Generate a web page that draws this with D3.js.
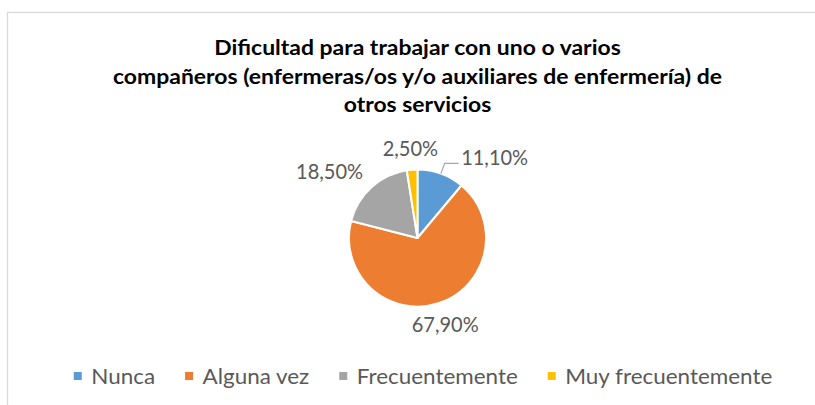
<!DOCTYPE html>
<html>
<head>
<meta charset="utf-8">
<script src="https://cdn.jsdelivr.net/npm/d3@7"></script>
<style>
  html, body { margin: 0; padding: 0; background: #fff; }
  svg { display: block; }
</style>
</head>
<body>
<svg id="chart" width="815" height="405"></svg>
<script>
const titleLines = [
  "Dificultad para trabajar con uno o varios",
  "compañeros (enfermeras/os y/o auxiliares de enfermería) de",
  "otros servicios"
];
const categories = ["Nunca", "Alguna vez", "Frecuentemente", "Muy frecuentemente"];
const values = [11.1, 67.9, 18.5, 2.5];
const valueLabels = ["11,10%", "67,90%", "18,50%", "2,50%"];
const colors = ["#5B9BD5", "#ED7D31", "#A5A5A5", "#FFC000"];

const W = 815, H = 405;
const FONT = "Lato, 'Open Sans', 'Liberation Sans', sans-serif";
const CAP = 0.7165; // Lato cap-height ratio
const svg = d3.select("#chart");

// chart area border (extends past the photographed window)
svg.append("rect")
  .attr("x", 7.5).attr("y", 12.5)
  .attr("width", W + 20).attr("height", H + 20)
  .attr("fill", "none").attr("stroke", "#d9d9d9").attr("stroke-width", 1.3);

function natWidth(text, weight, size) {
  const t = svg.append("text").attr("font-family", FONT).attr("font-weight", weight)
    .attr("font-size", size).text(text);
  const w = t.node().getComputedTextLength();
  t.remove();
  return w;
}
// a font spec: size chosen from cap height, horizontal factor chosen from a reference width
function spec(sample, weight, targetW, capH) {
  const size = capH / CAP;
  const f = targetW / natWidth(sample, weight, size);
  return { size, f, weight };
}
function widthOf(text, s) { return natWidth(text, s.weight, s.size) * s.f; }
function addText(sel, text, s) {
  const w = widthOf(text, s);
  return sel.append("text")
    .attr("font-family", FONT).attr("font-weight", s.weight)
    .attr("font-size", s.size)
    .attr("textLength", w).attr("lengthAdjust", "spacingAndGlyphs")
    .text(text);
}

// Title
const cxTitle = 417.5;
const tSpec = spec(titleLines[1], "bold", 609, 15);
const titleBase = [55, 84, 112];
const gTitle = svg.append("g");
titleLines.forEach((line, i) => {
  const w = widthOf(line, tSpec);
  addText(gTitle, line, tSpec)
    .attr("x", cxTitle - w / 2).attr("y", titleBase[i])
    .attr("fill", "#000");
});

// Pie
const cx = 417.5, cy = 238, r = 68.5;
const pie = d3.pie().sort(null).value(d => d);
const arcs = pie(values);
const arc = d3.arc().innerRadius(0).outerRadius(r);
const color = d3.scaleOrdinal().domain(categories).range(colors);

const gPie = svg.append("g").attr("transform", `translate(${cx},${cy})`);
gPie.selectAll("path").data(arcs).join("path")
  .attr("d", arc)
  .attr("fill", (d, i) => color(categories[i]))
  .attr("stroke", "#fff").attr("stroke-width", 2).attr("stroke-linejoin", "round");

// Data labels
const lSpec = spec("18,50%", "normal", 67, 15.5);
const capH = 15.5;
const labelColor = "#595959";
const gLab = svg.append("g").attr("transform", `translate(${cx},${cy})`);

const order = d3.range(values.length).sort((a, b) => values[a] - values[b]);
const placed = [];
order.forEach(i => {
  const a = arcs[i];
  const mid = (a.startAngle + a.endAngle) / 2;
  const dx = Math.sin(mid), dy = -Math.cos(mid);
  const w = widthOf(valueLabels[i], lSpec);
  const rl = r + 22;
  let x = dx * rl, y = dy * rl;
  if (Math.abs(dx) > 0.5) x += dx * w * 0.6;
  let box = { x0: x - w / 2, x1: x + w / 2, y0: y - capH / 2, y1: y + capH / 2 };
  const overlaps = placed.some(b => !(box.x1 < b.x0 || box.x0 > b.x1 || box.y1 < b.y0 || box.y0 > b.y1));
  if (overlaps) {
    const p0 = [dx * r, dy * r];
    const p1 = [dx * (r + 11), dy * (r + 11)];
    const p2 = [p1[0] + 14, p1[1]];
    gLab.append("polyline")
      .attr("points", [p0, p1, p2].map(p => p.join(",")).join(" "))
      .attr("fill", "none").attr("stroke", "#a6a6a6").attr("stroke-width", 1.2);
    const sx = p2[0] + 2.5 + w / 2;
    const sy = p1[1] - capH / 2 + 1.5;
    box = { x0: sx - w / 2, x1: sx + w / 2, y0: sy - capH / 2, y1: sy + capH / 2 };
    x = sx; y = sy;
  }
  placed.push(box);
  addText(gLab, valueLabels[i], lSpec)
    .attr("x", x - w / 2).attr("y", y + capH / 2)
    .attr("fill", labelColor);
});

// Legend
const gSpec = spec("Muy frecuentemente", "normal", 207, 15.5);
const sq = 8, gapText = 9.5, gapItem = 30;
const legItems = categories.map(c => ({ c, w: widthOf(c, gSpec) }));
const totalW = d3.sum(legItems, d => sq + gapText + d.w) + gapItem * (legItems.length - 1);
let lx = 423 - totalW / 2;
const legY = 383.5;
const gLeg = svg.append("g");
legItems.forEach(d => {
  gLeg.append("rect")
    .attr("x", lx).attr("y", legY - 11.5).attr("width", sq).attr("height", sq)
    .attr("fill", color(d.c));
  addText(gLeg, d.c, gSpec)
    .attr("x", lx + sq + gapText).attr("y", legY)
    .attr("fill", labelColor);
  lx += sq + gapText + d.w + gapItem;
});
</script>
</body>
</html>
